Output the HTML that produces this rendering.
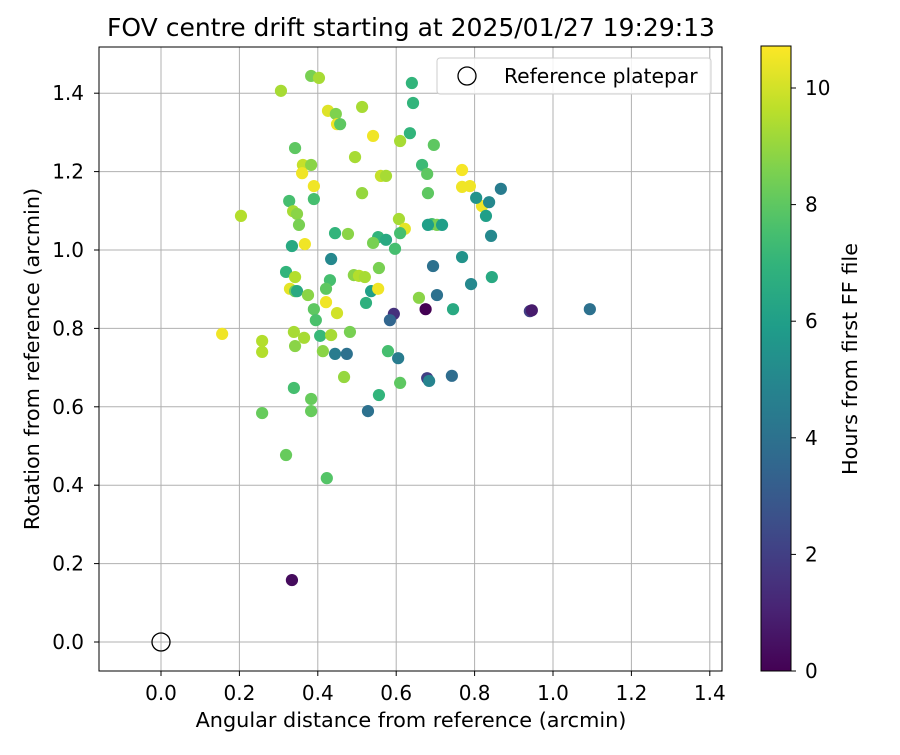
<!DOCTYPE html>
<html><head><meta charset="utf-8">
<style>
body{margin:0;background:#fff;font-family:"Liberation Sans","DejaVu Sans",sans-serif;}
svg text{font-family:"DejaVu Sans","Liberation Sans",sans-serif;}
</style></head>
<body>
<svg id="chart" width="900" height="750" xmlns="http://www.w3.org/2000/svg">
<rect width="900" height="750" fill="#fff"/>
<text x="411" y="36" font-size="25" text-anchor="middle">FOV centre drift starting at 2025/01/27 19:29:13</text>
<g id="grid"></g>
<g id="points"></g>
<rect x="99" y="47" width="623" height="624" fill="none" stroke="#000" stroke-width="1"/>
<g id="ticks"></g>
<text x="411" y="727" font-size="20.8" text-anchor="middle">Angular distance from reference (arcmin)</text>
<text transform="translate(39,359) rotate(-90)" font-size="20.8" text-anchor="middle">Rotation from reference (arcmin)</text>
<g>
<rect x="437" y="58" width="274" height="36" rx="3" fill="#fff" fill-opacity="0.85" stroke="#ccc"/>
<circle cx="467" cy="76" r="9" fill="none" stroke="#000" stroke-width="1.3"/>
<text x="504" y="83" font-size="20.3">Reference platepar</text>
</g>
<defs><linearGradient id="vir" x1="0" y1="1" x2="0" y2="0"></linearGradient></defs>
<rect x="761" y="46" width="30" height="625" fill="url(#vir)" stroke="#000" stroke-width="1"/>
<g id="cbticks"></g>
<text transform="translate(857,359) rotate(-90)" font-size="20.8" text-anchor="middle">Hours from first FF file</text>
</svg>
<script>
const xs=[.306,.383,.403,.426,.446,.449,.457,.513,.643,.640,.635,.696,.610,.541,.342,.495,.666,.679,.681,.561,.574,.362,.383,.360,.390,.390,.513,.768,.768,.788,.819,.804,.837,.867,.829,.842,.327,.337,.347,.352,.367,.334,.204,.444,.477,.607,.622,.610,.691,.704,.717,.681,.554,.574,.541,.597,.434,.319,.342,.431,.421,.329,.342,.347,.492,.505,.520,.556,.523,.536,.554,.375,.421,.449,.390,.395,.594,.584,.658,.675,.694,.704,.745,.791,.768,.844,.941,.946,1.094,.156,.258,.258,.339,.342,.365,.406,.434,.482,.413,.444,.474,.579,.605,.467,.610,.679,.684,.742,.339,.556,.258,.383,.383,.528,.319,.423,.334];
const ys=[1.406,1.444,1.439,1.355,1.347,1.321,1.321,1.365,1.375,1.426,1.298,1.268,1.278,1.291,1.260,1.237,1.217,1.194,1.145,1.189,1.189,1.217,1.217,1.196,1.163,1.130,1.145,1.204,1.161,1.163,1.112,1.133,1.122,1.156,1.087,1.036,1.125,1.099,1.092,1.064,1.015,1.010,1.087,1.043,1.041,1.079,1.054,1.043,1.066,1.064,1.064,1.064,1.033,1.026,1.018,1.003,.977,.944,.931,.923,.901,.901,.895,.895,.936,.934,.931,.954,.865,.895,.901,.885,.867,.839,.849,.821,.837,.821,.878,.849,.959,.885,.849,.913,.982,.931,.844,.846,.849,.786,.768,.740,.791,.755,.776,.781,.783,.791,.742,.735,.735,.742,.724,.676,.661,.673,.666,.679,.648,.630,.584,.589,.620,.589,.477,.418,.158];
const hours=[9.3,8.5,9.3,10.2,8.6,10.5,8,9.3,7,7,7,8,9.3,10.5,8,9.3,7.3,8,8,9.8,9.3,9.8,8.8,10.5,10.5,7.5,9,10.6,10.5,10.5,10.5,5.5,5,4.5,6,5,7.5,9.3,8.8,8.5,10.5,6.5,9.5,7,8.8,9.3,10.3,7.5,7.5,8.5,6,6,7,6.5,8.5,7.5,5,7,9.5,7.5,8,10.3,8.3,6.5,8.8,9.5,9.3,8.5,6.8,6,10.5,8.8,10.5,10,8,7.6,1.5,3.5,8.8,0,4,4,6.5,5,5.5,6.5,2,0.8,4,10.5,9.5,9.5,9.3,8.8,9.3,7.2,9.3,8.5,8.8,4.5,4,7.5,4.5,9,8,2,4.8,3.8,7.5,7,8.2,8.2,8.2,4,8.2,7.8,0.3];
const xTicks=[0,0.2,0.4,0.6,0.8,1.0,1.2,1.4];
const yTicks=[0,0.2,0.4,0.6,0.8,1.0,1.2,1.4];
const cbTicks=[0,2,4,6,8,10];
const NS="http://www.w3.org/2000/svg";
const X=v=>161+v*392, Y=v=>642-v*392, CB=v=>671-v*58.3;
const VIR=[[68,1,84],[72,40,120],[62,74,137],[49,104,142],[38,130,142],[31,158,137],[53,183,121],[110,206,88],[181,222,43],[253,231,37]];
function vir(t){t=Math.max(0,Math.min(1,t));const s=t*9,i=Math.min(8,Math.floor(s)),f=s-i;const a=VIR[i],b=VIR[i+1];return `rgb(${a.map((c,k)=>Math.round(c+(b[k]-c)*f)).join(',')})`;}
function mk(tag,attrs,parent){const e=document.createElementNS(NS,tag);for(const k in attrs)e.setAttribute(k,attrs[k]);parent.appendChild(e);return e;}
const grid=document.getElementById('grid'),ticks=document.getElementById('ticks'),pts=document.getElementById('points'),cbt=document.getElementById('cbticks');
xTicks.forEach(v=>{const l=mk('line',{x1:X(v),x2:X(v),y1:47,y2:671,stroke:'#b0b0b0','stroke-width':1},grid);

mk('line',{x1:X(v),x2:X(v),y1:671,y2:676,stroke:'#000'},ticks);
const t=mk('text',{x:X(v),y:700,'font-size':20,'text-anchor':'middle'},ticks);t.textContent=v.toFixed(1);
});
yTicks.forEach(v=>{const l=mk('line',{x1:99,x2:722,y1:Y(v),y2:Y(v),stroke:'#b0b0b0','stroke-width':1},grid);

mk('line',{x1:94,x2:99,y1:Y(v),y2:Y(v),stroke:'#000'},ticks);
const t=mk('text',{x:84,y:Y(v)+7,'font-size':20,'text-anchor':'end'},ticks);t.textContent=v.toFixed(1);
});
xs.forEach((x,i)=>{const c=mk('circle',{cx:X(x),cy:Y(ys[i]),r:6.1,fill:vir(hours[i]/10.72)},pts);
});
const ref=mk('circle',{cx:X(0),cy:Y(0),r:9,fill:'none',stroke:'#000','stroke-width':1.3},pts);

const g=document.getElementById('vir');
for(let i=0;i<=20;i++){mk('stop',{offset:i/20,'stop-color':vir(i/20)},g);}
cbTicks.forEach(v=>{mk('line',{x1:791,x2:796,y1:CB(v),y2:CB(v),stroke:'#000'},cbt);
const t=mk('text',{x:805,y:CB(v)+7,'font-size':20},cbt);t.textContent=v;
});
</script>
</body></html>
